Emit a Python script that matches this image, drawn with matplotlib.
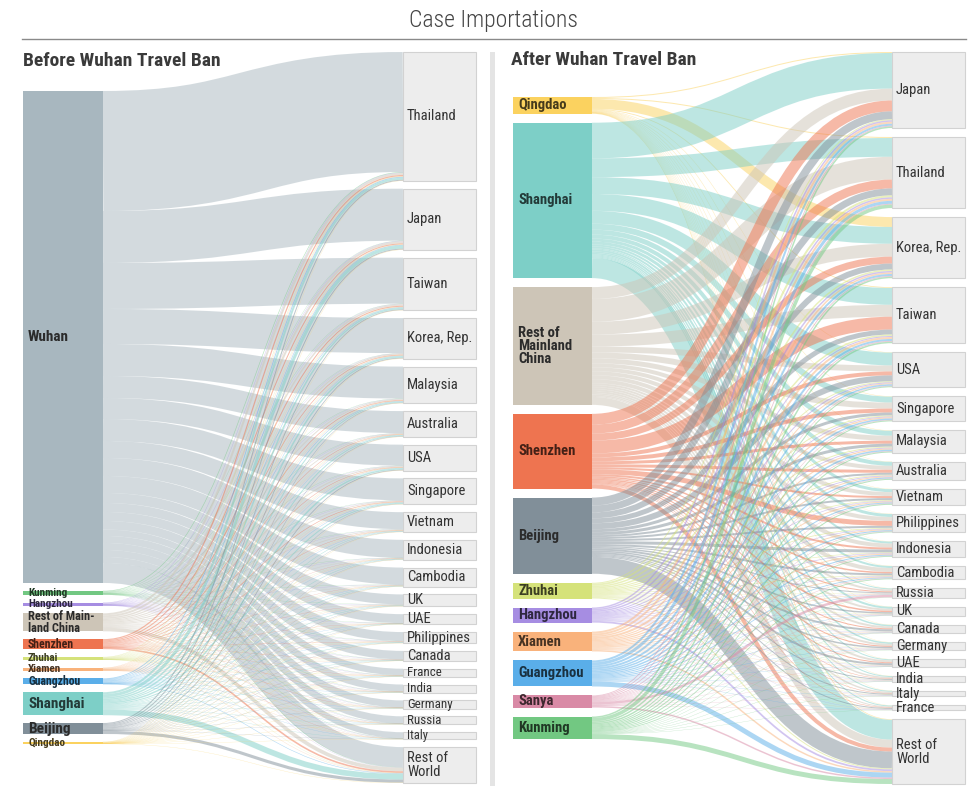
import numpy as np
import matplotlib.pyplot as plt
from matplotlib.path import Path
from matplotlib.patches import PathPatch, Rectangle
from matplotlib import colors as mcolors

# fuentes
plt.rcParams['font.family'] = ['Roboto Condensed', 'Liberation Sans Narrow', 'Roboto', 'DejaVu Sans']

# ---------------------------------------------------------------
# datos: antes de la prohibicion de viajar desde Wuhan
# ---------------------------------------------------------------
before_sources = ['Wuhan', 'Kunming', 'Hangzhou', 'Rest of Main-\nland China', 'Shenzhen',
                  'Zhuhai', 'Xiamen', 'Guangzhou', 'Shanghai', 'Beijing', 'Qingdao']
before_keys = ['Wuhan', 'Kunming', 'Hangzhou', 'Rest', 'Shenzhen',
               'Zhuhai', 'Xiamen', 'Guangzhou', 'Shanghai', 'Beijing', 'Qingdao']
before_targets = ['Thailand', 'Japan', 'Taiwan', 'Korea, Rep.', 'Malaysia', 'Australia', 'USA',
                  'Singapore', 'Vietnam', 'Indonesia', 'Cambodia', 'UK', 'UAE', 'Philippines',
                  'Canada', 'France', 'India', 'Germany', 'Russia', 'Italy', 'Rest of\nWorld']

wuhan_before     = [120, 52, 46, 35, 32, 22, 21, 22, 17, 18, 17, 10, 9, 9, 8.5, 6.5, 7, 7, 7, 6, 20]
kunming_before   = [0.6, 0.3, 0.3, 0.2, 0.3, 0.2, 0.2, 0.2, 0.2, 0.1, 0.2, 0.1, 0.1, 0.1, 0.1, 0.1, 0.1, 0.1, 0.1, 0.1, 0.3]
hangzhou_before  = [0.4, 0.4, 0.3, 0.2, 0.2, 0.1, 0.2, 0.1, 0.1, 0.1, 0.1, 0.1, 0.05, 0.1, 0.05, 0.05, 0.05, 0.05, 0.05, 0.05, 0.2]
rest_before      = [2, 2, 1.5, 1.2, 1, 0.8, 1, 0.8, 0.8, 0.4, 0.4, 0.4, 0.2, 0.4, 0.3, 0.3, 0.2, 0.2, 0.2, 0.2, 3.7]
shenzhen_before  = [1.2, 1, 1, 0.7, 0.7, 0.5, 0.5, 0.6, 0.4, 0.2, 0.2, 0.2, 0.1, 0.3, 0.2, 0.2, 0.1, 0.1, 0.1, 0.1, 1.6]
zhuhai_before    = [0.4, 0.3, 0.3, 0.2, 0.2, 0.2, 0.1, 0.2, 0.1, 0.1, 0.1, 0.1, 0.05, 0.1, 0.05, 0.05, 0.05, 0.05, 0.05, 0.05, 0.2]
xiamen_before    = [0.3, 0.3, 0.3, 0.2, 0.2, 0.1, 0.2, 0.2, 0.1, 0.1, 0.1, 0.1, 0.05, 0.1, 0.05, 0.05, 0.05, 0.05, 0.05, 0.05, 0.3]
guangzhou_before = [0.8, 0.6, 0.5, 0.4, 0.5, 0.3, 0.3, 0.4, 0.3, 0.2, 0.2, 0.1, 0.1, 0.2, 0.1, 0.1, 0.1, 0.1, 0.1, 0.1, 0.5]
shanghai_before  = [2, 3, 1.5, 1.5, 1, 1, 1.5, 1, 0.5, 0.5, 0.5, 0.5, 0.3, 0.5, 0.4, 0.4, 0.3, 0.3, 0.3, 0.3, 5.7]
beijing_before   = [1, 1, 0.8, 0.8, 0.5, 0.5, 0.8, 0.4, 0.3, 0.2, 0.2, 0.3, 0.1, 0.2, 0.2, 0.2, 0.1, 0.1, 0.1, 0.1, 3.1]
qingdao_before   = [0.2, 0.3, 0.1, 0.3, 0.1, 0.1, 0.1, 0.1, 0.05, 0.05, 0.05, 0.05, 0.05, 0.05, 0.05, 0.05, 0.05, 0.05, 0.05, 0.05, 0.3]

# ---------------------------------------------------------------
# datos: despues de la prohibicion
# ---------------------------------------------------------------
after_sources = ['Qingdao', 'Shanghai', 'Rest of\nMainland\nChina', 'Shenzhen', 'Beijing',
                 'Zhuhai', 'Hangzhou', 'Xiamen', 'Guangzhou', 'Sanya', 'Kunming']
after_keys = ['Qingdao', 'Shanghai', 'Rest', 'Shenzhen', 'Beijing',
              'Zhuhai', 'Hangzhou', 'Xiamen', 'Guangzhou', 'Sanya', 'Kunming']
after_targets = ['Japan', 'Thailand', 'Korea, Rep.', 'Taiwan', 'USA', 'Singapore', 'Malaysia',
                 'Australia', 'Vietnam', 'Philippines', 'Indonesia', 'Cambodia', 'Russia', 'UK',
                 'Canada', 'Germany', 'UAE', 'India', 'Italy', 'France', 'Rest of\nWorld']

qingdao_after   = [1, 1, 10, 0.8, 0.4, 0.4, 0.4, 0.3, 0.3, 0.2, 0.2, 0.2, 0.1, 0.2, 0.2, 0.2, 0.1, 0.1, 0.1, 0.1, 0.6]
shanghai_after  = [36, 19, 17, 17, 13, 6, 5, 4, 3, 3, 2, 2, 1, 2, 1.5, 1.5, 1, 1, 1, 1, 20]
rest_after      = [12, 23, 13, 12, 6, 6, 5, 4, 4, 4, 4, 4, 2, 2, 2, 2, 2, 1.5, 1.5, 1, 8]
shenzhen_after  = [11, 9, 7, 13, 4, 4, 3, 3, 2, 5, 2, 1.5, 1, 1.5, 1, 1, 1, 0.5, 0.5, 0.5, 4]
beijing_after   = [8, 7, 6, 5, 6, 3, 3, 2, 2, 2, 3, 2, 1, 1.5, 2, 1.5, 2, 1, 1, 1, 17]
zhuhai_after    = [1, 2, 1.5, 1.5, 1, 1, 1, 0.8, 0.8, 0.8, 0.6, 0.6, 0.3, 0.3, 0.3, 0.3, 0.3, 0.3, 0.3, 0.2, 1.0]
hangzhou_after  = [1.5, 1.5, 1.5, 1, 1, 0.8, 0.8, 0.8, 0.6, 0.6, 0.6, 0.5, 0.3, 0.3, 0.3, 0.3, 0.3, 0.3, 0.3, 0.2, 1.8]
xiamen_after    = [2, 2, 1.5, 2, 1, 1.2, 1.2, 1, 1, 1, 1, 0.8, 0.5, 0.4, 0.4, 0.4, 0.3, 0.3, 0.3, 0.2, 1.5]
guangzhou_after = [2, 3, 2, 2, 1.5, 1.5, 1.5, 1.2, 1, 1, 1, 0.8, 0.4, 0.4, 0.4, 0.4, 0.3, 0.3, 0.3, 0.3, 5]
sanya_after     = [0.8, 0.8, 0.8, 0.8, 0.5, 0.5, 0.5, 0.4, 0.4, 0.4, 0.4, 0.4, 2.5, 0.3, 0.2, 0.2, 0.2, 0.2, 0.2, 0.2, 1.5]
kunming_after   = [1.5, 3.5, 1.5, 1.5, 1, 1, 1, 1, 1, 0.8, 0.8, 0.8, 0.3, 0.3, 0.3, 0.3, 0.3, 0.3, 0.3, 0.2, 5]

# colores de cada ciudad de origen
city_colors = {
    'Wuhan': '#a8b7bf', 'Kunming': '#72c882', 'Hangzhou': '#a68de2', 'Rest': '#cdc5b7',
    'Shenzhen': '#ee7450', 'Zhuhai': '#d5e27a', 'Xiamen': '#f9b27b', 'Guangzhou': '#5aaee9',
    'Shanghai': '#7dcfc7', 'Beijing': '#818f99', 'Qingdao': '#fbd25f', 'Sanya': '#d98aa6',
}

before_flows = np.array([wuhan_before, kunming_before, hangzhou_before, rest_before, shenzhen_before,
                         zhuhai_before, xiamen_before, guangzhou_before, shanghai_before,
                         beijing_before, qingdao_before])
after_flows = np.array([qingdao_after, shanghai_after, rest_after, shenzhen_after, beijing_after,
                        zhuhai_after, hangzhou_after, xiamen_after, guangzhou_after,
                        sanya_after, kunming_after])

# figura en coordenadas de pixel
W, H = 980, 805
fig = plt.figure(figsize=(9.8, 8.05), dpi=100)
ax = fig.add_axes([0, 0, 1, 1])
ax.set_xlim(0, W)
ax.set_ylim(H, 0)
ax.axis('off')


def darker(c, f=0.3):
    return tuple(np.array(mcolors.to_rgb(c)) * f)


def Sankey(flows, sources, keys, targets, xs, xt, top, bottom, gap, small_labels):
    ns, nt = flows.shape
    s_tot = flows.sum(axis=1)
    t_tot = flows.sum(axis=0)
    k = (bottom - top - gap * (nt - 1)) / t_tot.sum()
    center = 0.5 * (top + bottom)

    # posiciones de los nodos
    t_h = t_tot * k
    t_y = top + np.concatenate([[0], np.cumsum(t_h + gap)[:-1]])
    s_h = s_tot * k
    s_span = s_h.sum() + gap * (ns - 1)
    s_y = center - s_span / 2 + np.concatenate([[0], np.cumsum(s_h + gap)[:-1]])

    # enlaces: en origen se apilan por orden de destino, en destino por orden de origen
    s_off = np.zeros(ns)
    t_off = np.zeros(nt)
    y_src = {}
    y_tgt = {}
    for i in range(ns):
        for j in range(nt):
            w = flows[i, j] * k
            if w <= 0:
                continue
            y_src[(i, j)] = s_y[i] + s_off[i] + w / 2
            s_off[i] += w
    for j in range(nt):
        for i in range(ns):
            w = flows[i, j] * k
            if w <= 0:
                continue
            y_tgt[(i, j)] = t_y[j] + t_off[j] + w / 2
            t_off[j] += w

    x0, x1 = xs[1], xt[0]
    xm = 0.5 * (x0 + x1)
    for (i, j), y0 in y_src.items():
        w = flows[i, j] * k
        y1 = y_tgt[(i, j)]
        path = Path([(x0, y0), (xm, y0), (xm, y1), (x1, y1)],
                    [Path.MOVETO, Path.CURVE4, Path.CURVE4, Path.CURVE4])
        ax.add_patch(PathPatch(path, fill=False, edgecolor=city_colors[keys[i]],
                               alpha=0.5, lw=max(w, 0.25) * 0.72, capstyle='butt'))

    # nodos de origen
    for i in range(ns):
        ax.add_patch(Rectangle((xs[0], s_y[i]), xs[1] - xs[0], s_h[i],
                               facecolor=city_colors[keys[i]], edgecolor='none'))
        if small_labels and '\n' in sources[i]:
            fs = 8.8
        elif small_labels:
            fs = 11 if s_h[i] > 10.5 else (8.5 if s_h[i] > 5 else 8.0)
        else:
            fs = 10.5
        lab_c = '#2b2b2b' if keys[i] in ('Wuhan', 'Rest', 'Beijing') else darker(city_colors[keys[i]], 0.28)
        ax.text(xs[0] + 5, s_y[i] + s_h[i] / 2, sources[i], fontsize=fs, fontweight='bold',
                color=lab_c, va='center', ha='left', linespacing=0.92)

    # nodos de destino
    for j in range(nt):
        ax.add_patch(Rectangle((xt[0], t_y[j]), xt[1] - xt[0], t_h[j],
                               facecolor='#ededed', edgecolor='#d2d2d2', lw=0.8))
        if small_labels:
            fs = min(10.5, max(9.0, 4.5 + t_h[j] * 0.6))
        else:
            fs = 10.5
        ax.text(xt[0] + 4, t_y[j] + t_h[j] / 2, targets[j], fontsize=fs,
                color='#333333', va='center', ha='left', linespacing=1.0)


Sankey(before_flows, before_sources, before_keys, before_targets,
       (23, 103), (403, 476), 52, 783, 7.8, True)
Sankey(after_flows, after_sources, after_keys, after_targets,
       (513, 592), (892, 965), 52, 784, 9.0, False)

# separador entre paneles
ax.add_patch(Rectangle((490, 52), 5, 734, facecolor='#e4e4e4', edgecolor='none'))

# titulos
ax.text(493, 20, 'Case Importations', fontsize=17, fontweight='light', color='#444444',
        ha='center', va='center')
ax.plot([22, 966], [39, 39], color='#8a8a8a', lw=1.0)
ax.text(23, 61, 'Before Wuhan Travel Ban', fontsize=14, fontweight='bold', color='#3a3a3a',
        ha='left', va='center')
ax.text(511, 60, 'After Wuhan Travel Ban', fontsize=14, fontweight='bold', color='#3a3a3a',
        ha='left', va='center')

plt.savefig('out.png', dpi=100)
